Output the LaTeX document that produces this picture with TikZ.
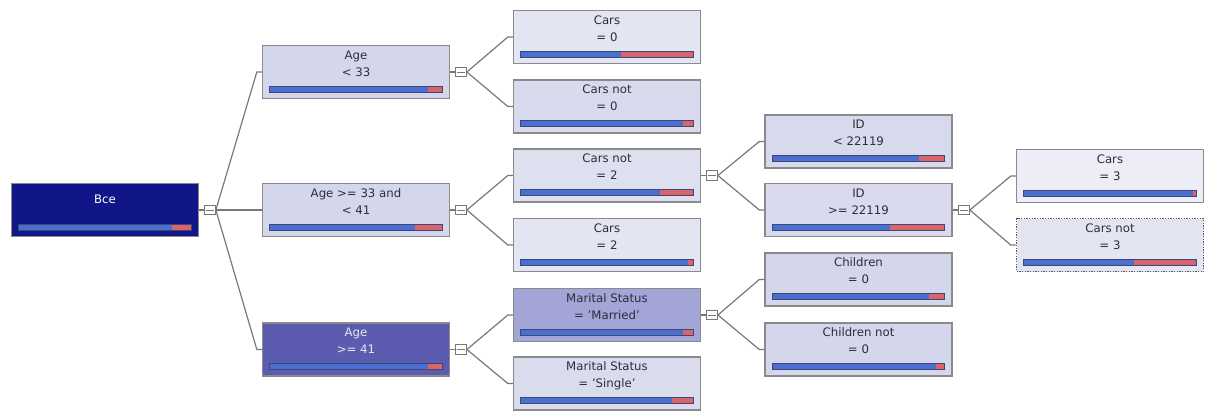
\documentclass[tikz,border=0pt]{standalone}
\usepackage{fontspec}
\setmainfont{DejaVu Sans}
\usetikzlibrary{calc}
\definecolor{rootfill}{RGB}{16,22,135}
\definecolor{deepfill}{RGB}{91,92,176}
\definecolor{midfill}{RGB}{163,165,214}
\definecolor{lightfill}{RGB}{212,214,235}
\definecolor{palefill}{RGB}{228,229,242}
\definecolor{boxline}{RGB}{138,138,140}
\definecolor{linkline}{RGB}{120,120,122}
\definecolor{labeltext}{RGB}{45,45,61}
\definecolor{barblue}{RGB}{74,111,208}
\definecolor{barred}{RGB}{217,100,106}
\definecolor{bardark}{RGB}{60,72,118}

\begin{document}
\begin{tikzpicture}[x=0.75pt,y=-0.75pt,
  box/.style={draw=boxline,line width=1pt,fill=lightfill,minimum width=140.25pt,minimum height=39.75pt,
    inner sep=0pt,align=center,text=labeltext,font=\fontsize{8.8}{12.75}\selectfont},
  toggle/.style={draw=linkline,fill=white,line width=0.8pt,minimum width=8pt,minimum height=7pt,inner sep=0pt,
    path picture={\draw[linkline,line width=0.6pt] ([xshift=1pt]path picture bounding box.west) -- ([xshift=-1pt]path picture bounding box.east);}},
  link/.style={draw=linkline,line width=0.9pt}]
\useasboundingbox (0,0) rectangle (1208,412);
\def\gauge#1#2{%
  \path ($(#1.south west)+(8,-7)$) coordinate (bl) ($(#1.south east)+(-8,-13)$) coordinate (tr);
  \fill[barblue] (bl) rectangle (tr);
  \fill[barred] ($(bl)!#2!(bl-|tr)$) rectangle (tr);
  \draw[bardark,line width=0.6pt] (bl) rectangle (tr);}

\node[box,fill=rootfill,text=white] (n0) at (105,210) {Все\\[3pt]~};
\node[box] (n11) at (356,72) {Age\\< 33\\~};
\node[box] (n12) at (356,210) {Age >= 33 and\\< 41\\~};
\node[box,fill=deepfill,text=white!85!deepfill] (n13) at (356,349.5) {Age\\>= 41\\~};
\node[box,fill=palefill] (n21) at (607,37) {Cars\\= 0\\~};
\node[box,fill=lightfill!70!palefill] (n22) at (607,106.5) {Cars not\\= 0\\~};
\node[box,fill=lightfill!40!palefill] (n23) at (607,175.5) {Cars not\\= 2\\~};
\node[box,fill=palefill] (n24) at (607,245) {Cars\\= 2\\~};
\node[box,fill=midfill] (n25) at (607,315) {Marital Status\\= 'Married'\\~};
\node[box,fill=lightfill!60!palefill] (n26) at (607,383.5) {Marital Status\\= 'Single'\\~};
\node[box,fill=lightfill!80!palefill] (n31) at (858.5,141.5) {ID\\< 22119\\~};
\node[box,fill=lightfill!70!palefill] (n32) at (858.5,210) {ID\\>= 22119\\~};
\node[box] (n33) at (858.5,279.5) {Children\\= 0\\~};
\node[box] (n34) at (858.5,349.5) {Children not\\= 0\\~};
\node[box,fill=palefill!70!white] (n41) at (1110,176) {Cars\\= 3\\~};
\node[box,fill=palefill,draw=black!65,densely dotted,line width=1.2pt] (n42) at (1110,245) {Cars not\\= 3\\~};

\gauge{n0}{0.89}
\gauge{n11}{0.92}
\gauge{n12}{0.84}
\gauge{n13}{0.92}
\gauge{n21}{0.58}
\gauge{n22}{0.94}
\gauge{n23}{0.81}
\gauge{n24}{0.97}
\gauge{n25}{0.94}
\gauge{n26}{0.88}
\gauge{n31}{0.85}
\gauge{n32}{0.68}
\gauge{n33}{0.91}
\gauge{n34}{0.95}
\gauge{n41}{0.98}
\gauge{n42}{0.64}

\node[toggle] (t0) at (210,210) {};
\node[toggle] (t11) at (461,72) {};
\node[toggle] (t12) at (461,210) {};
\node[toggle] (t13) at (461,349.5) {};
\node[toggle] (t23) at (712,175.5) {};
\node[toggle] (t25) at (712,315) {};
\node[toggle] (t32) at (964,210) {};

\draw[link] (n0.east) -- (t0.west);
\draw[link] (n11.east) -- (t11.west);
\draw[link] (n12.east) -- (t12.west);
\draw[link] (n13.east) -- (t13.west);
\draw[link] (n23.east) -- (t23.west);
\draw[link] (n25.east) -- (t25.west);
\draw[link] (n32.east) -- (t32.west);

\draw[link] (t0.east) -- ($(n11.west)+(-5,0)$) -- (n11.west);
\draw[link] (t0.east) -- (n12.west);
\draw[link] (t0.east) -- ($(n13.west)+(-5,0)$) -- (n13.west);
\draw[link] (t11.east) -- ($(n21.west)+(-5,0)$) -- (n21.west);
\draw[link] (t11.east) -- ($(n22.west)+(-5,0)$) -- (n22.west);
\draw[link] (t12.east) -- ($(n23.west)+(-5,0)$) -- (n23.west);
\draw[link] (t12.east) -- ($(n24.west)+(-5,0)$) -- (n24.west);
\draw[link] (t13.east) -- ($(n25.west)+(-5,0)$) -- (n25.west);
\draw[link] (t13.east) -- ($(n26.west)+(-5,0)$) -- (n26.west);
\draw[link] (t23.east) -- ($(n31.west)+(-5,0)$) -- (n31.west);
\draw[link] (t23.east) -- ($(n32.west)+(-5,0)$) -- (n32.west);
\draw[link] (t25.east) -- ($(n33.west)+(-5,0)$) -- (n33.west);
\draw[link] (t25.east) -- ($(n34.west)+(-5,0)$) -- (n34.west);
\draw[link] (t32.east) -- ($(n41.west)+(-5,0)$) -- (n41.west);
\draw[link] (t32.east) -- ($(n42.west)+(-5,0)$) -- (n42.west);
\end{tikzpicture}
\end{document}
